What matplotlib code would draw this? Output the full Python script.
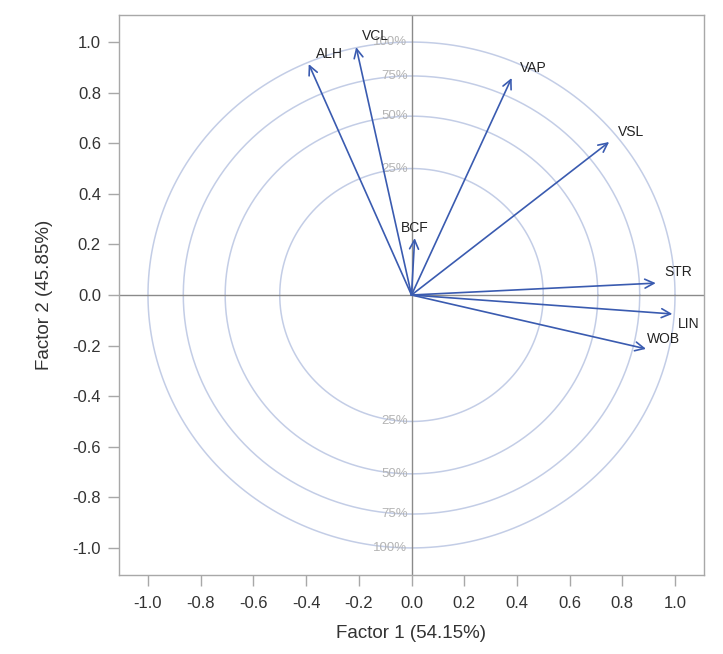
import numpy as np
import matplotlib.pyplot as plt

plt.rcParams['font.family'] = ['Liberation Sans', 'DejaVu Sans']

# loadings
variables = ['ALH', 'VCL', 'VAP', 'VSL', 'BCF', 'STR', 'LIN', 'WOB']
factor1 = [-0.39, -0.21, 0.38, 0.75, 0.012, 0.927, 0.99, 0.89]
factor2 = [0.913, 0.98, 0.858, 0.605, 0.225, 0.047, -0.075, -0.213]
# label offsets (points) for each variable name
lab_dx = [5, 4, 6, 6, 0, 6, 4, 1]
lab_dy = [7, 8, 7, 7, 7, 8, -7, 7]
lab_ha = ['left', 'left', 'left', 'left', 'center', 'left', 'left', 'left']

pct = [25, 50, 75, 100]
radii = np.sqrt(np.array(pct) / 100)

circ_col = '#c3cde6'
arrow_col = '#3a5bb0'
frame_col = '#a8a8a8'

fig = plt.figure(figsize=(7.23, 6.54), dpi=100)
ax = fig.add_axes([119/723, 1-575/654, 585/723, 560/654])

t = np.linspace(0, 2*np.pi, 500)
for r, p in zip(radii, pct):
    ax.plot(r*np.cos(t), r*np.sin(t), color=circ_col, lw=1.1, zorder=1)
    ax.text(-0.015, r, '%d%%' % p, ha='right', va='center', fontsize=9.5,
            color='#b4b4b4', zorder=2)
    ax.text(-0.015, -r, '%d%%' % p, ha='right', va='center', fontsize=9.5,
            color='#b4b4b4', zorder=2)

ax.axhline(0, color='#8a8a8a', lw=1, zorder=1.5)
ax.axvline(0, color='#8a8a8a', lw=1, zorder=1.5)

for v, x, y, dx, dy, ha in zip(variables, factor1, factor2, lab_dx, lab_dy, lab_ha):
    ax.annotate('', xy=(x, y), xytext=(0, 0),
                arrowprops=dict(arrowstyle='->,head_length=0.65,head_width=0.32',
                                color=arrow_col, lw=1.2, shrinkA=0, shrinkB=0),
                zorder=3)
    ax.annotate(v, xy=(x, y), xytext=(dx, dy), textcoords='offset points',
                ha=ha, va='center', fontsize=10, color='#222222', zorder=4)

ax.set_xlim(-1.11, 1.11)
ax.set_ylim(-1.107, 1.107)
ticks = np.round(np.arange(-1.0, 1.01, 0.2), 1)
labels = ['%.1f' % v if abs(v) > 1e-9 else '0.0' for v in ticks]
ax.set_xticks(ticks)
ax.set_yticks(ticks)
ax.set_xticklabels(labels)
ax.set_yticklabels(labels)
ax.tick_params(axis='both', labelsize=12, colors='#333333', length=8,
               width=1, color=frame_col, direction='out')
ax.tick_params(axis='x', pad=7)
ax.tick_params(axis='y', pad=5)
for s in ax.spines.values():
    s.set_color(frame_col)
    s.set_linewidth(1)

ax.set_xlabel('Factor 1 (54.15%)', fontsize=13.5, color='#333333', labelpad=10)
ax.set_ylabel('Factor 2 (45.85%)', fontsize=13.5, color='#333333', labelpad=14)

fig.savefig('out.png', dpi=100)
